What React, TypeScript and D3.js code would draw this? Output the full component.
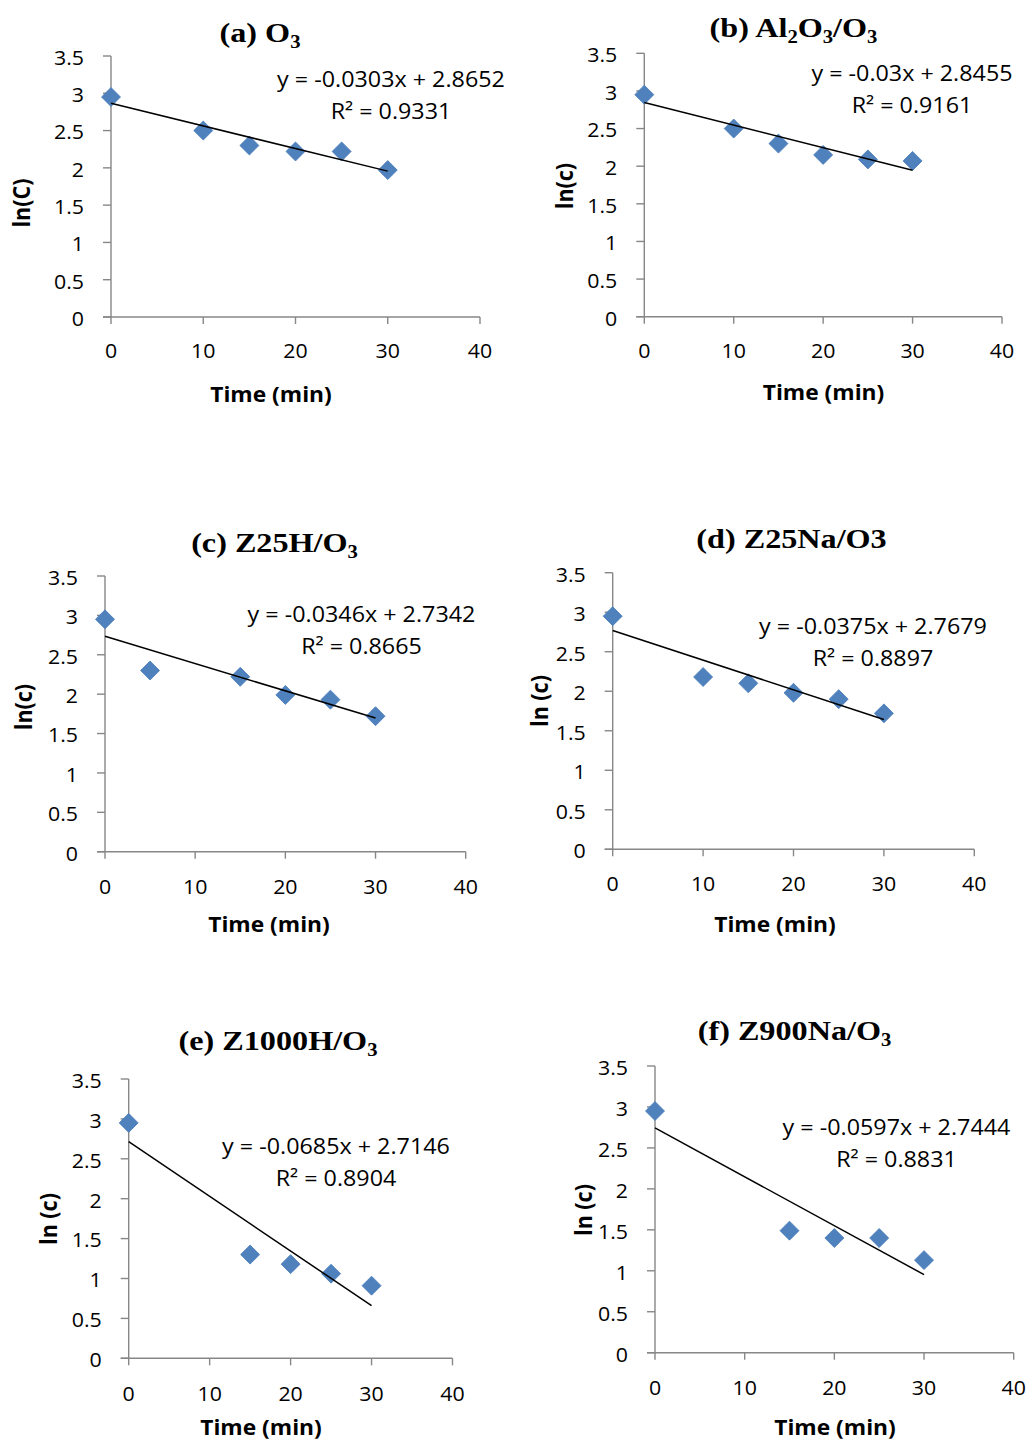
import React from "react";
import * as d3 from "d3";

// ---------- data ----------
const xTicks = [0, 10, 20, 30, 40];
const yTicks = [0, 0.5, 1, 1.5, 2, 2.5, 3, 3.5];
const xLabel = "Time (min)";
const yLabels = ["ln(C)", "ln(c)", "ln(c)", "ln (c)", "ln (c)", "ln (c)"];

// title segments: [text, isSubscript]
const titleA: [string, boolean][] = [["(a) O", false], ["3", true]];
const titleB: [string, boolean][] = [["(b) Al", false], ["2", true], ["O", false], ["3", true], ["/O", false], ["3", true]];
const titleC: [string, boolean][] = [["(c) Z25H/O", false], ["3", true]];
const titleD: [string, boolean][] = [["(d) Z25Na/O3", false]];
const titleE: [string, boolean][] = [["(e) Z1000H/O", false], ["3", true]];
const titleF: [string, boolean][] = [["(f) Z900Na/O", false], ["3", true]];

const timeA = [0, 10, 15, 20, 25, 30];
const lnA = [2.95, 2.5, 2.3, 2.22, 2.22, 1.97];
const timeB = [0, 10, 15, 20, 25, 30];
const lnB = [2.95, 2.5, 2.3, 2.15, 2.09, 2.07];
const timeC = [0, 5, 15, 20, 25, 30];
const lnC = [2.95, 2.3, 2.22, 1.99, 1.93, 1.72];
const timeD = [0, 10, 15, 20, 25, 30];
const lnD = [2.95, 2.18, 2.1, 1.98, 1.9, 1.72];
const timeE = [0, 15, 20, 25, 30];
const lnE = [2.95, 1.3, 1.18, 1.06, 0.91];
const timeF = [0, 15, 20, 25, 30];
const lnF = [2.95, 1.49, 1.4, 1.4, 1.13];

const slopes = [-0.0303, -0.03, -0.0346, -0.0375, -0.0685, -0.0597];
const intercepts = [2.8652, 2.8455, 2.7342, 2.7679, 2.7146, 2.7444];
const r2Values = ["0.9331", "0.9161", "0.8665", "0.8897", "0.8904", "0.8831"];
const fitRange = [0, 30];

const titles = [titleA, titleB, titleC, titleD, titleE, titleF];
const times = [timeA, timeB, timeC, timeD, timeE, timeF];
const lns = [lnA, lnB, lnC, lnD, lnE, lnF];

// ---------- layout ----------
const layout = [
  { left: 111, top: 56, right: 480, bottom: 317, titleX: 260, titleY: 41.5, eqX: 391, eqY: 79, xlabX: 271, xlabY: 393, ylabX: 21, ylabY: 203, xtickY: 350.5 },
  { left: 644.3, top: 53.3, right: 1002, bottom: 316.7, titleX: 793.5, titleY: 36.7, eqX: 912, eqY: 73, xlabX: 823.5, xlabY: 391.5, ylabX: 564, ylabY: 186, xtickY: 350.5 },
  { left: 105, top: 576, right: 465.7, bottom: 851.7, titleX: 274.5, titleY: 551.5, eqX: 361.5, eqY: 614, xlabX: 269, xlabY: 923, ylabX: 23, ylabY: 707, xtickY: 886.5 },
  { left: 612.7, top: 572.7, right: 974.3, bottom: 849.3, titleX: 791.5, titleY: 548.3, eqX: 873, eqY: 626, xlabX: 775, xlabY: 923, ylabX: 538.5, ylabY: 701, xtickY: 883.5 },
  { left: 128.7, top: 1079, right: 452.5, bottom: 1358.3, titleX: 278, titleY: 1050, eqX: 336, eqY: 1146, xlabX: 261, xlabY: 1426, ylabX: 47.5, ylabY: 1219, xtickY: 1393 },
  { left: 655, top: 1066, right: 1013.7, bottom: 1352.7, titleX: 794.5, titleY: 1040, eqX: 896.5, eqY: 1127, xlabX: 835, xlabY: 1426, ylabX: 582.7, ylabY: 1210, xtickY: 1387 },
];

const SANS = "'Open Sans', 'Liberation Sans', sans-serif";
const SERIF = "'Liberation Serif', 'Times New Roman', serif";
const TITLE_STRETCH = 1.15;
const TICK_SIZE = 20.5;
const TICK_STRETCH = 1.04;
const EQ_SIZE = 22;
const EQ_STRETCH = 1.06;
const LAB_SIZE = 21.5;
const LAB_STRETCH = 1.06;
const AXIS = "#878787";
const MARK = "#4F81BD";

function Panel({ i }: { i: number }) {
  const L = layout[i];
  const x = d3.scaleLinear().domain([0, 40]).range([L.left, L.right]);
  const y = d3.scaleLinear().domain([0, 3.5]).range([L.bottom, L.top]);
  const sym = d3.symbol().type(d3.symbolSquare).size(180)();
  const line = d3
    .line<number>()
    .x((t) => x(t))
    .y((t) => y(slopes[i] * t + intercepts[i]));
  const pts = times[i].map((t, k) => ({ t, v: lns[i][k] }));
  const eq = `y = ${slopes[i]}x + ${intercepts[i]}`;
  const r2 = `R² = ${r2Values[i]}`;

  let shift = 0;
  const titleSpans = titles[i].map(([txt, sub], k) => {
    const target = sub ? 6 : 0;
    const dy = target - shift;
    shift = target;
    return (
      <tspan key={k} dy={dy} fontSize={sub ? 18 : 28}>
        {txt}
      </tspan>
    );
  });

  return (
    <g>
      <text
        transform={`translate(${L.titleX},${L.titleY}) scale(${TITLE_STRETCH},1)`}
        textAnchor="middle"
        fontFamily={SERIF}
        fontWeight="bold"
        fontSize={28}
        fill="#000"
      >
        {titleSpans}
      </text>

      {/* axes */}
      <line x1={x(0)} x2={x(0)} y1={y(3.5)} y2={y(0)} stroke={AXIS} strokeWidth={1.4} />
      <line x1={x(0) - 8} x2={x(40)} y1={y(0)} y2={y(0)} stroke={AXIS} strokeWidth={1.4} />
      {yTicks.map((v) => (
        <g key={"y" + v}>
          <line x1={x(0) - 8} x2={x(0)} y1={y(v)} y2={y(v)} stroke={AXIS} strokeWidth={1.4} />
          <text
            transform={`translate(${x(0) - 27},${y(v) + 1}) scale(${TICK_STRETCH},1)`}
            textAnchor="end"
            dominantBaseline="central"
            fontFamily={SANS}
            fontSize={TICK_SIZE}
            fill="#000"
          >
            {String(v)}
          </text>
        </g>
      ))}
      {xTicks.map((v) => (
        <g key={"x" + v}>
          <line x1={x(v)} x2={x(v)} y1={y(0)} y2={y(0) + 7} stroke={AXIS} strokeWidth={1.4} />
          <text
            transform={`translate(${x(v)},${L.xtickY}) scale(${TICK_STRETCH},1)`}
            textAnchor="middle"
            dominantBaseline="central"
            fontFamily={SANS}
            fontSize={TICK_SIZE}
            fill="#000"
          >
            {String(v)}
          </text>
        </g>
      ))}

      {/* axis titles */}
      <text
        transform={`translate(${L.xlabX},${L.xlabY}) scale(${LAB_STRETCH},1)`}
        textAnchor="middle"
        dominantBaseline="central"
        fontFamily={SANS}
        fontWeight="bold"
        fontSize={LAB_SIZE}
        fill="#000"
      >
        {xLabel}
      </text>
      <text
        transform={`translate(${L.ylabX},${L.ylabY}) rotate(-90) scale(1,${LAB_STRETCH})`}
        textAnchor="middle"
        dominantBaseline="central"
        fontFamily={SANS}
        fontWeight="bold"
        fontSize={LAB_SIZE}
        fill="#000"
      >
        {yLabels[i]}
      </text>

      {/* markers */}
      {pts.map((p, k) => (
        <path
          key={k}
          d={sym || ""}
          transform={`translate(${x(p.t)},${y(p.v)}) rotate(45)`}
          fill={MARK}
          stroke="#4A7DBA"
          strokeWidth={0.8}
        />
      ))}

      {/* trendline */}
      <path d={line(fitRange) || ""} fill="none" stroke="#000" strokeWidth={1.5} />

      {/* equation */}
      <text
        transform={`translate(${L.eqX},${L.eqY}) scale(${EQ_STRETCH},1)`}
        textAnchor="middle"
        dominantBaseline="central"
        fontFamily={SANS}
        fontSize={EQ_SIZE}
        fill="#000"
      >
        {eq}
      </text>
      <text
        transform={`translate(${L.eqX},${L.eqY + 32}) scale(${EQ_STRETCH},1)`}
        textAnchor="middle"
        dominantBaseline="central"
        fontFamily={SANS}
        fontSize={EQ_SIZE}
        fill="#000"
      >
        {r2}
      </text>
    </g>
  );
}

export default function App() {
  return (
    <svg
      width={1032}
      height={1440}
      viewBox="0 0 1032 1440"
      style={{ position: "absolute", left: 0, top: 0, background: "#fff" }}
    >
      <rect x={0} y={0} width={1032} height={1440} fill="#fff" />
      {layout.map((_, i) => (
        <Panel key={i} i={i} />
      ))}
    </svg>
  );
}
